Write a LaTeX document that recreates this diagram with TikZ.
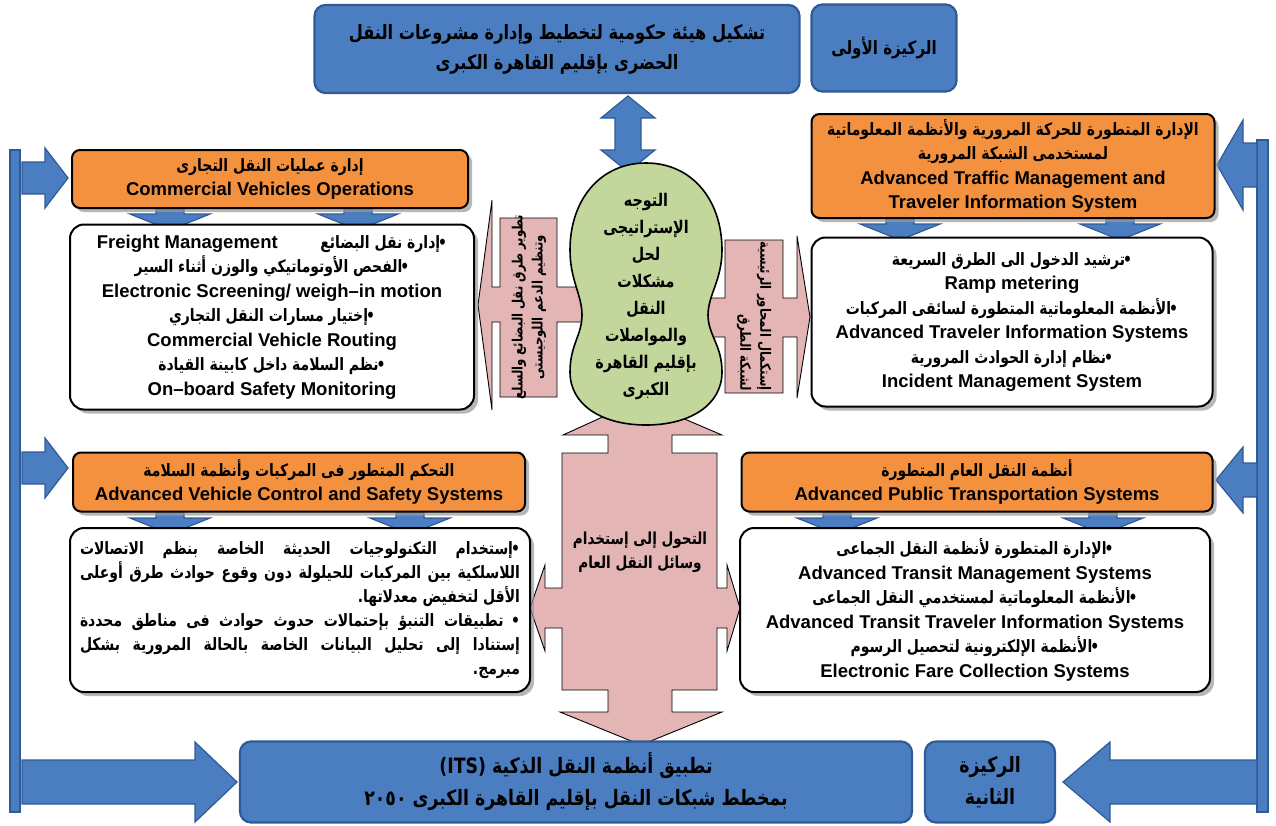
\documentclass[tikz,border=0pt]{standalone}
\usepackage{fontspec}
\setmainfont{Liberation Sans}
\newfontfamily\arfont[Script=Arabic,Scale=0.92,FakeStretch=0.82]{DejaVu Sans}
\TeXXeTstate=1
\usetikzlibrary{shadows}
\definecolor{bfill}{HTML}{4A7EC0}
\definecolor{bdraw}{HTML}{2F5A96}
\definecolor{ofill}{HTML}{F4913F}
\definecolor{gfill}{HTML}{C3D69B}
\definecolor{pfill}{HTML}{E3B6B5}
\newcommand\artx[1]{{\arfont\bfseries\beginR #1\endR}}
\newcommand\blt{•\kern-2pt}
\newcommand\enw[1]{\beginL{\normalfont\bfseries #1}\endL}
\newcommand\jline[1]{\hbox to 440pt{\beginR #1\endR}}
\newcommand\rline[1]{\hbox to 440pt{\hfill\beginR #1\endR}}
\newcommand\ensize{\fontsize{18.5}{24.5}\selectfont\bfseries}
\begin{document}
\begin{tikzpicture}[x=1pt,y=-1pt,
  bluebox/.style={fill=bfill, draw=bdraw, line width=2.2pt, rounded corners=11pt, align=center, font=\ensize},
  bluearrow/.style={fill=bfill, draw=bdraw, line width=1.2pt, line join=miter},
  orangebox/.style={fill=ofill, draw=black, line width=2pt, rounded corners=8pt, align=center, font=\ensize,
     drop shadow={shadow xshift=4pt, shadow yshift=-4pt, fill=black!40, opacity=.7}},
  whitebox/.style={fill=white, draw=black, line width=2pt, rounded corners=14pt, align=center, font=\ensize,
     drop shadow={shadow xshift=4pt, shadow yshift=-4pt, fill=black!40, opacity=.7}},
  pinkshape/.style={fill=pfill, draw=black, line width=0.9pt, line join=miter},
  greenshape/.style={fill=gfill, draw=black, line width=1.6pt},
  txt/.style={align=center, inner sep=0pt}
]
\useasboundingbox (0,0) rectangle (1276,825);
% side bars
\draw[bluearrow] (10,150) rectangle (20,812);
\draw[bluearrow] (1257,140) rectangle (1268,812);
% left arrows
\draw[bluearrow] (22,162) -- (45,162) -- (45,148) -- (68,178) -- (45,208) -- (45,194) -- (22,194) -- cycle;
\draw[bluearrow] (22,452) -- (45,452) -- (45,438) -- (68,468) -- (45,498) -- (45,484) -- (22,484) -- cycle;
% right arrows
\draw[bluearrow] (1257,143) -- (1243,143) -- (1243,120) -- (1217,165) -- (1243,210) -- (1243,187) -- (1257,187) -- cycle;
\draw[bluearrow] (1257,463) -- (1243,463) -- (1243,447) -- (1216,480) -- (1243,513) -- (1243,497) -- (1257,497) -- cycle;
% bottom arrows
\draw[bluearrow] (22,760) -- (195,760) -- (195,742) -- (237,782) -- (195,822) -- (195,804) -- (22,804) -- cycle;
\draw[bluearrow] (1257,760) -- (1110,760) -- (1110,742) -- (1063,782) -- (1110,822) -- (1110,804) -- (1257,804) -- cycle;
% top double arrow
\draw[bluearrow] (628,96) -- (655,118) -- (641,118) -- (641,150) -- (655,150) -- (628,172) -- (601,150) -- (615,150) -- (615,118) -- (601,118) -- cycle;
% small down arrows
\foreach \cx/\yt in {170/205, 358/205, 900/215, 1120/215, 170/509, 410/509, 837/509, 1103/509}{
  \draw[bluearrow] (\cx-14,\yt) -- (\cx+14,\yt) -- (\cx+14,\yt+9) -- (\cx+40,\yt+9) -- (\cx,\yt+25) -- (\cx-40,\yt+9) -- (\cx-14,\yt+9) -- cycle;
}
% pink callouts
\draw[pinkshape] (500,218) -- (557,218) -- (557,287) -- (590,287) -- (590,322) -- (557,322) -- (557,397) -- (500,397) -- (500,322) -- (492,322) -- (492,410) -- (478,305) -- (492,200) -- (492,287) -- (500,287) -- cycle;
\draw[pinkshape] (725,240) -- (783,240) -- (783,298) -- (797,298) -- (797,236) -- (810,317) -- (797,398) -- (797,337) -- (783,337) -- (783,393) -- (725,393) -- (725,337) -- (700,337) -- (700,298) -- (725,298) -- cycle;
\draw[pinkshape] (562,453) -- (608,453) -- (608,435) -- (563,435) -- (640,400) -- (722,435) -- (672,435) -- (672,453) -- (717,453) -- (717,588) -- (727,588) -- (727,565) -- (740,608) -- (727,651) -- (727,628) -- (717,628) -- (717,690) -- (672,690) -- (672,712) -- (722,712) -- (641,745) -- (560,712) -- (608,712) -- (608,690) -- (562,690) -- (562,628) -- (545,628) -- (545,651) -- (530,608) -- (545,565) -- (545,588) -- (562,588) -- cycle;
% green shape
\draw[greenshape] (570,250) .. controls (570,200) and (600,163) .. (646,163) .. controls (692,163) and (722,200) .. (722,250)
  .. controls (722,280) and (708,295) .. (708,315) .. controls (708,335) and (722,345) .. (722,372)
  .. controls (722,405) and (690,425) .. (646,425) .. controls (602,425) and (570,405) .. (570,372)
  .. controls (570,345) and (582,335) .. (582,315) .. controls (582,295) and (570,280) .. (570,250) -- cycle;
\node[txt, font=\fontsize{19}{27}\selectfont] (gt) at (646,296) {\artx{التوجه}\\\artx{الإستراتيجى}\\\artx{لحل}\\\artx{مشكلات}\\\artx{النقل}\\\artx{والمواصلات}\\\artx{بإقليم القاهرة}\\\artx{الكبرى}};
\node[txt, rotate=90, font=\fontsize{15.5}{20}\selectfont] (plt) at (529,307) {\artx{تطوير طرق نقل البضائع والسلع}\\\artx{وتنظيم الدعم اللوجيستى}};
\node[txt, rotate=-90, align=right, font=\fontsize{15.5}{20}\selectfont] (prt) at (754,316) {\artx{إستكمال المحاور الرئيسية}\\\artx{لشبكة الطرق}};
\node[txt, font=\fontsize{18}{24}\selectfont] (pqt) at (640,552) {\artx{التحول إلى إستخدام}\\\artx{وسائل النقل العام}};
% top boxes
\node[bluebox, minimum width=485, minimum height=88, font=\fontsize{21.5}{30}\selectfont] (top) at (557,49) {\artx{تشكيل هيئة حكومية لتخطيط وإدارة مشروعات النقل}\\\artx{الحضرى بإقليم القاهرة الكبرى}};
\node[bluebox, minimum width=145, minimum height=87, font=\fontsize{20}{28}\selectfont] (r1) at (884,48) {\artx{الركيزة الأولى}};
% orange + white boxes
\node[orangebox, minimum width=396, minimum height=58] (lo1) at (270,179) {\artx{إدارة عمليات النقل التجارى}\\Commercial Vehicles Operations};
\node[whitebox, minimum width=404, minimum height=185] (lw1) at (272,317) {\artx{\blt إدارة نقل البضائع\hspace{2.5em}\enw{Freight Management}}\\\artx{\blt الفحص الأوتوماتيكي والوزن أثناء السير}\\Electronic Screening/ weigh–in motion\\\artx{\blt إختيار مسارات النقل التجاري}\\Commercial Vehicle Routing\\\artx{\blt نظم السلامة داخل كابينة القيادة}\\On–board Safety Monitoring};
\node[orangebox, minimum width=403, minimum height=104] (ro1) at (1013,166) {\artx{الإدارة المتطورة للحركة المرورية والأنظمة المعلوماتية}\\\artx{لمستخدمى الشبكة المرورية}\\Advanced Traffic Management and\\Traveler Information System};
\node[whitebox, minimum width=401, minimum height=169] (rw1) at (1012,322) {\artx{\blt ترشيد الدخول الى الطرق السريعة}\\Ramp metering\\\artx{\blt الأنظمة المعلوماتية المتطورة لسائقى المركبات}\\Advanced Traveler Information Systems\\\artx{\blt نظام إدارة الحوادث المرورية}\\Incident Management System};
\node[orangebox, minimum width=452, minimum height=59] (lo2) at (299,482) {\artx{التحكم المتطور فى المركبات وأنظمة السلامة}\\Advanced Vehicle Control and Safety Systems};
\node[whitebox, minimum width=460, minimum height=164] (lw2) at (300,610) {};
\node[inner sep=0pt] (lw2t) at (300,610) {\parbox{440pt}{\fontsize{18.5}{24}\selectfont\arfont\bfseries
\jline{\blt إستخدام التكنولوجيات الحديثة الخاصة بنظم الاتصالات}
\jline{اللاسلكية بين المركبات للحيلولة دون وقوع حوادث طرق أوعلى}
\rline{الأقل لتخفيض معدلاتها\kern0pt.}
\jline{\blt\ تطبيقات التنبؤ بإحتمالات حدوث حوادث فى مناطق محددة}
\jline{إستنادا إلى تحليل البيانات الخاصة بالحالة المرورية بشكل}
\rline{مبرمج\kern0pt.}}};
\node[orangebox, minimum width=471, minimum height=59] (ro2) at (977,482) {\artx{أنظمة النقل العام المتطورة}\\Advanced Public Transportation Systems};
\node[whitebox, minimum width=470, minimum height=164] (rw2) at (975,610) {\artx{\blt الإدارة المتطورة لأنظمة النقل الجماعى}\\Advanced Transit Management Systems\\\artx{\blt الأنظمة المعلوماتية لمستخدمي النقل الجماعى}\\Advanced Transit Traveler Information Systems\\\artx{\blt الأنظمة الإلكترونية لتحصيل الرسوم}\\Electronic Fare Collection Systems};
% bottom boxes
\node[bluebox, minimum width=672, minimum height=81, font=\fontsize{23}{32}\selectfont] (bot) at (576,782) {\artx{تطبيق أنظمة النقل الذكية \beginL(ITS)\endL}\\\artx{بمخطط شبكات النقل بإقليم القاهرة الكبرى \beginL٢٠٥٠\endL}};
\node[bluebox, minimum width=130, minimum height=81, font=\fontsize{23}{32}\selectfont] (r2) at (990,782) {\artx{الركيزة}\\\artx{الثانية}};
\end{tikzpicture}
\end{document}
